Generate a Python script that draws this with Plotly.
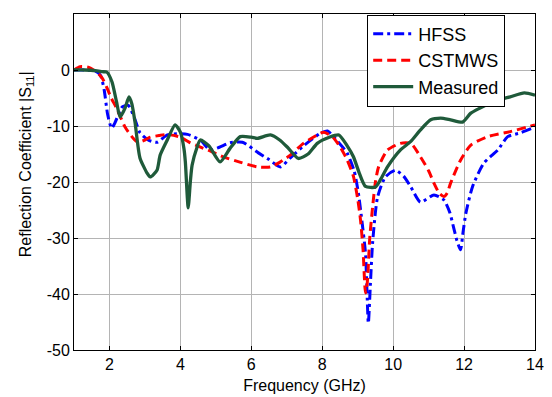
import plotly.graph_objects as go

# ---- data ----
hfss_f = [1.0, 1.3, 1.6, 1.75, 1.85, 1.95, 2.06, 2.15, 2.36, 2.53, 2.7, 2.86, 3.09, 3.34, 3.63, 3.9, 4.2,
          4.56, 4.84, 5.1, 5.4, 5.75, 6.2, 6.5, 6.82, 7.1, 7.5, 7.95, 8.15, 8.4, 8.7, 8.9, 9.02, 9.12,
          9.22, 9.3, 9.36, 9.42, 9.56, 9.78, 10.07, 10.3, 10.5, 10.77, 11.15, 11.43, 11.6, 11.7, 11.8,
          11.9, 11.97, 12.05, 12.24, 12.56, 12.95, 13.23, 13.6, 14.0]
hfss_db = [0, 0, -0.2, -1, -3.5, -8, -10.4, -9.5, -6.6, -6.3, -8.5, -11.2, -12.5, -12.9, -11.6, -11.4, -11.5,
           -12.5, -14.3, -13.8, -13.0, -12.9, -14.8, -16.0, -17.3, -15.7, -13.4, -11.3, -10.9, -12.5, -14.8, -18,
           -22, -27, -32.7, -45.2, -38, -30.9, -22.7, -19.1, -17.9, -19, -20.9, -23.6, -22.3, -23.2, -25.5, -28,
           -30.5, -32.1, -29, -25.6, -20.8, -16.6, -14.3, -11.9, -11.2, -10.2]

cst_f = [1.0, 1.17, 1.4, 1.65, 1.8, 1.93, 2.05, 2.2, 2.44, 2.67, 2.8, 3.0, 3.15, 3.4, 3.63, 4.0, 4.28, 4.5,
         4.85, 5.2, 5.7, 6.17, 6.54, 6.8, 7.1, 7.47, 7.95, 8.05, 8.3, 8.5, 8.7, 8.88, 9.0, 9.08, 9.15, 9.22,
         9.27, 9.34, 9.42, 9.5, 9.59, 9.84, 10.2, 10.5, 10.77, 11.0, 11.15, 11.3, 11.43, 11.52, 11.62, 11.9,
         12.19, 12.67, 13.3, 14.0]
cst_db = [0, 0.6, 0.5, -0.4, -1.5, -3.2, -5, -6.8, -10.2, -12.2, -12.9, -12.5, -12, -11.7, -11.5, -12, -13,
          -13.6, -14.5, -15.5, -16.5, -17.3, -17.3, -16.5, -15.2, -13.1, -11.3, -11.1, -12, -13.7, -16, -19, -23,
          -26.8, -32, -39.8, -38, -30, -24.5, -20, -17.3, -14.3, -13.1, -13.1, -15.5, -18, -20.2, -22, -22.6, -22,
          -20.2, -16.1, -13.4, -11.9, -11, -9.8]

meas_f = [1.0, 1.3, 1.6, 1.8, 1.93, 2.07, 2.2, 2.3, 2.44, 2.55, 2.63, 2.72, 2.86, 3.06, 3.15, 3.34, 3.43, 3.63,
          3.85, 4.0, 4.1, 4.14, 4.22, 4.28, 4.33, 4.47, 4.56, 4.8, 5.12, 5.4, 5.69, 6.0, 6.17, 6.54, 6.8, 7.02,
          7.33, 7.6, 7.86, 8.2, 8.47, 8.7, 8.88, 9.05, 9.22, 9.5, 9.65, 9.84, 10.2, 10.49, 10.77, 11.06, 11.34,
          11.62, 11.96, 12.19, 12.45, 12.75, 13.0, 13.3, 13.7, 14.0]
meas_db = [0, 0, -0.1, -0.3, -0.4, -2.1, -5.7, -8.4, -6.8, -4.8, -6.0, -9.3, -15.7, -18.4, -19.1, -17.9, -15.2,
           -12.5, -9.8, -11.1, -14, -16.4, -24.6, -20, -17, -13.8, -12.5, -13.5, -16.4, -14, -11.9, -12, -12.2,
           -11.6, -12.5, -13.8, -15.8, -15, -13.1, -12, -11.6, -13.5, -15.5, -18.5, -20.8, -20.9, -19.5, -17.3,
           -14.3, -12.8, -10.7, -8.9, -8.6, -8.9, -9.3, -7.7, -6.8, -5.9, -5.3, -4.8, -4.1, -4.5]

x_ticks = [2, 4, 6, 8, 10, 12, 14]
y_ticks = [10, 0, -10, -20, -30, -40, -50]

FONT = "Liberation Sans, Arial, sans-serif"

fig = go.Figure()
fig.add_trace(go.Scatter(x=hfss_f, y=hfss_db, name="HFSS", mode="lines",
                         line=dict(color="#0000FF", width=3, dash="10px,4px,3px,4px",
                                   shape="spline", smoothing=0.6)))
fig.add_trace(go.Scatter(x=cst_f, y=cst_db, name="CSTMWS", mode="lines",
                         line=dict(color="#FF0000", width=3, dash="9px,5px",
                                   shape="spline", smoothing=0.6)))
fig.add_trace(go.Scatter(x=meas_f, y=meas_db, name="Measured", mode="lines",
                         line=dict(color="#1F5A3A", width=3.3,
                                   shape="spline", smoothing=0.6)))

axis_common = dict(showline=True, linecolor="black", linewidth=1, mirror="ticks",
                   ticks="inside", ticklen=4, tickcolor="black", automargin=False,
                   showgrid=True, gridcolor="#b4b4b4", gridwidth=1, zeroline=False,
                   tickfont=dict(family=FONT, size=16, color="black"))

fig.update_xaxes(range=[1, 14], tickvals=x_ticks, ticktext=[str(v) for v in x_ticks],
                 title=dict(text="Frequency (GHz)", font=dict(family=FONT, size=16, color="black"),
                            standoff=7),
                 **axis_common)
fig.update_yaxes(range=[-50, 10], tickvals=y_ticks, ticktext=[str(v) for v in y_ticks],
                 **axis_common)

# y-axis title placed as an annotation (it sits above the vertical centre in the reference)
fig.add_annotation(text="Reflection Coefficient |S<sub>11</sub>|", textangle=-90,
                   xref="paper", yref="paper", x=-0.104, y=0.553,
                   xanchor="center", yanchor="middle", showarrow=False,
                   font=dict(family=FONT, size=16, color="black"))

# the page body has an 8px margin, so the figure is 8px smaller and margins shifted
fig.update_layout(
    width=544, height=389,
    margin=dict(l=66, r=17, t=6, b=47, autoexpand=False),
    paper_bgcolor="white", plot_bgcolor="white",
    font=dict(family=FONT, size=16, color="black"),
    legend=dict(x=0.636, y=0.998, xanchor="left", yanchor="top",
                bgcolor="white", bordercolor="black", borderwidth=1,
                font=dict(family=FONT, size=18, color="black"),
                itemwidth=40, tracegroupgap=0),
    showlegend=True,
)

fig.write_html("out.html")
